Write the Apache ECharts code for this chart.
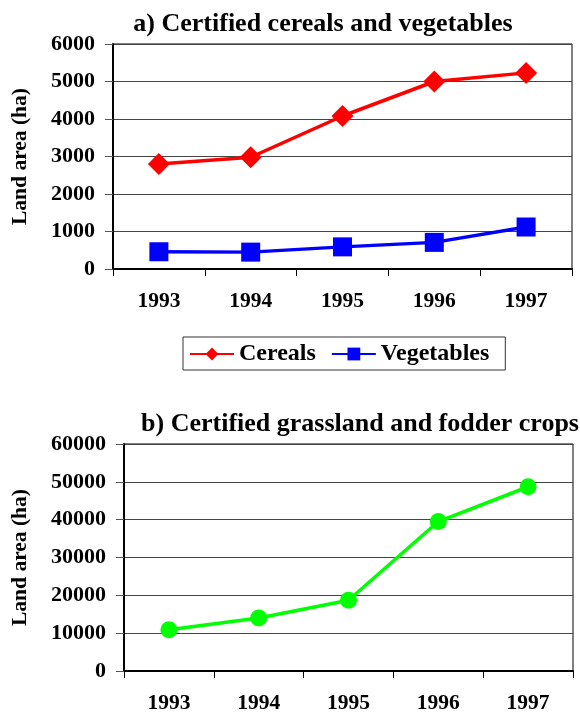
<!DOCTYPE html>
<html><head><meta charset="utf-8">
<script src="https://cdn.jsdelivr.net/npm/echarts@6/dist/echarts.min.js"></script>
<style>html,body{margin:0;padding:0;background:#fff}#c{width:580px;height:715px}</style>
</head><body><div id="c"></div>
<script>
const years = ['1993','1994','1995','1996','1997'];
const cereals = [2800, 2980, 4080, 5000, 5230];
const vegetables = [460, 450, 590, 710, 1120];
const grassland = [10900, 14000, 18700, 39500, 48700];
const topTicks = {min: 0, max: 6000, interval: 1000};
const bottomTicks = {min: 0, max: 60000, interval: 10000};

const FONT = '"Liberation Serif", "Times New Roman", serif';
const lbl = {fontFamily: FONT, fontWeight: 'bold', fontSize: 21.5, color: '#000'};

function xAxis(gi) {
  return {
    type: 'category', gridIndex: gi, data: years, boundaryGap: true,
    axisLine: {lineStyle: {color: '#000', width: 2}},
    axisTick: {show: true, length: 7, lineStyle: {color: '#000', width: 1}},
    axisLabel: Object.assign({margin: 21}, lbl)
  };
}
function yAxis(gi, t) {
  return {
    type: 'value', gridIndex: gi, min: t.min, max: t.max, interval: t.interval,
    name: 'Land area (ha)', nameLocation: 'middle', nameGap: gi === 0 ? 82 : 93,
    nameTextStyle: {fontFamily: FONT, fontWeight: 'bold', fontSize: 21.5, color: '#000'},
    axisLine: {show: true, lineStyle: {color: '#000', width: 2}},
    axisTick: {show: true, length: 8, lineStyle: {color: '#555', width: 1}},
    splitLine: {show: true, lineStyle: {color: '#444', width: 1}},
    axisLabel: Object.assign({margin: 18, formatter: v => String(v)}, lbl, {fontSize: 22})
  };
}

const chart = echarts.init(document.getElementById('c'), null, {renderer: 'canvas'});
chart.setOption({
  animation: false,
  backgroundColor: '#fff',
  title: [
    {text: 'a) Certified cereals and vegetables', left: 318, top: 6, textAlign: 'center',
     textStyle: {fontFamily: FONT, fontWeight: 'bold', fontSize: 26, color: '#000'}},
    {text: 'b) Certified grassland and fodder crops', left: 355, top: 406, textAlign: 'center',
     textStyle: {fontFamily: FONT, fontWeight: 'bold', fontSize: 26, color: '#000'}}
  ],
  legend: {
    data: ['Cereals', 'Vegetables'],
    left: 183, top: 337,
    padding: [5, 16, 4, 6],
    borderColor: '#333', borderWidth: 1,
    itemWidth: 44, itemHeight: 16, itemGap: 15,
    textStyle: {fontFamily: FONT, fontWeight: 'bold', fontSize: 24, color: '#000'}
  },
  grid: [
    {left: 113, right: 8, top: 44, height: 225, show: true, borderColor: '#000', borderWidth: 1, outerBoundsMode: 'none', containLabel: false},
    {left: 124, right: 7, top: 444, height: 227, show: true, borderColor: '#000', borderWidth: 1, outerBoundsMode: 'none', containLabel: false}
  ],
  xAxis: [xAxis(0), xAxis(1)],
  yAxis: [yAxis(0, topTicks), yAxis(1, bottomTicks)],
  series: [
    {name: 'Cereals', type: 'line', xAxisIndex: 0, yAxisIndex: 0, data: cereals,
     symbol: 'diamond', symbolSize: 22, itemStyle: {color: '#ff0000'},
     lineStyle: {color: '#ff0000', width: 3.5}},
    {name: 'Vegetables', type: 'line', xAxisIndex: 0, yAxisIndex: 0, data: vegetables,
     symbol: 'rect', symbolSize: 19, itemStyle: {color: '#0000ff'},
     lineStyle: {color: '#0000ff', width: 3.5}},
    {name: 'Grassland', type: 'line', xAxisIndex: 1, yAxisIndex: 1, data: grassland,
     symbol: 'circle', symbolSize: 17, itemStyle: {color: '#00ff00'},
     lineStyle: {color: '#00ff00', width: 3.5}}
  ]
});
</script></body></html>
